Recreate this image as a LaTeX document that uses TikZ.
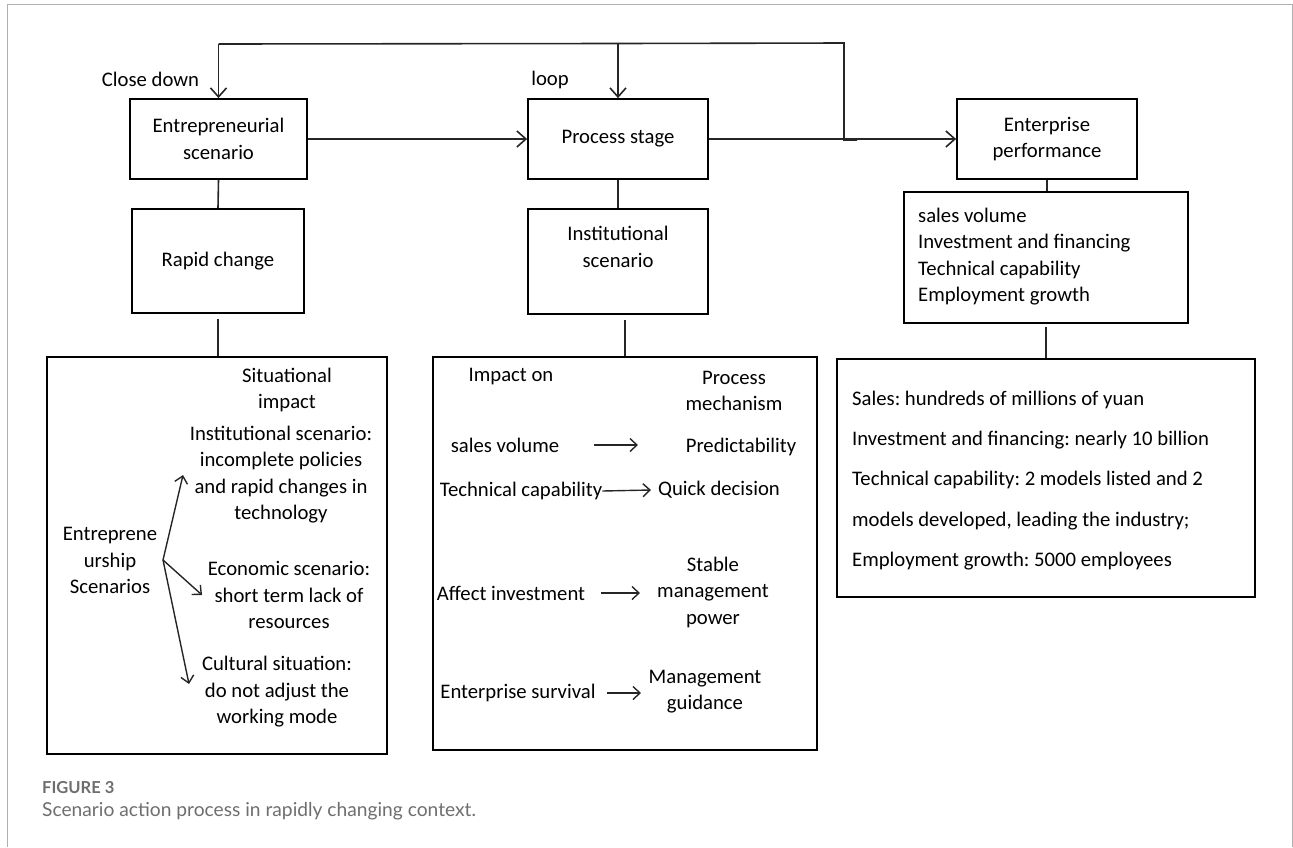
\documentclass[tikz,border=0pt]{standalone}
\usepackage{fontspec}
\setmainfont{Carlito}
\newfontfamily\capfont{Lato}
\usetikzlibrary{arrows.meta}
\definecolor{framegray}{HTML}{B0B0B0}
\definecolor{capgray}{HTML}{6E6E6E}
\frenchspacing
\tikzset{
  box/.style={draw=black, line width=1.8pt, inner sep=0pt, align=center, font=\fontsize{20.7}{26.5}\selectfont},
  txt/.style={inner sep=0pt, align=center, font=\fontsize{20.7}{26.5}\selectfont},
  conn/.style={draw=black!85, line width=1.6pt},
  arr/.style={conn, -{Straight Barb[length=9pt,width=16pt,line width=1.6pt]}},
  sarr/.style={draw=black!85, line width=1.4pt, -{Straight Barb[length=7pt,width=13pt,line width=1.4pt]}},
}
\begin{document}
\begin{tikzpicture}[x=1pt,y=-1pt]
\useasboundingbox (0,0) rectangle (1293,847);
% page frame
\draw[framegray, line width=1pt] (7,847) -- (7,4.5) -- (1292,4.5) -- (1292,847);

% top row
\node[box, minimum width=177pt, minimum height=80pt] (ent) at (218.5,139) {Entrepreneurial\\scenario};
\node[box, minimum width=180pt, minimum height=80pt] (proc) at (618,139) {Process stage};
\node[box, minimum width=180pt, minimum height=80pt] (entp) at (1047,139) {Enterprise\\performance};

% second row
\node[box, minimum width=172pt, minimum height=104pt] (rapid) at (218,261) {Rapid change};
\node[box, minimum width=180pt, minimum height=105pt] (inst) at (618,261.5) {};
\node[txt] (instt) at (618,247) {Institutional\\scenario};
\node[box, minimum width=284pt, minimum height=131pt] (list) at (1046,257.5) {};
\node[txt, anchor=west, align=left] (listt) at (918,256.5) {sales volume\\Investment and financing\\Technical capability\\Employment growth};

% bottom boxes
\node[box, minimum width=340pt, minimum height=397pt] (lbox) at (217,555.5) {};
\node[box, minimum width=384pt, minimum height=393pt] (mbox) at (625,553.5) {};
\node[box, minimum width=418pt, minimum height=238pt] (rbox) at (1046,478) {};

% labels
\node[txt] (cdown) at (150.5,79) {Close down};
\node[txt] (loopl) at (550,80) {loop};

% vertical connectors
\draw[conn] (ent.south) -- (rapid.north);
\draw[conn, shorten <=5pt] (rapid.south) -- (lbox.north -| rapid.south);
\draw[conn] (proc.south) -- (inst.north);
\draw[conn, shorten <=5pt] (mbox.north |- inst.south) -- (mbox.north);
\draw[conn] (entp.south) -- (list.north -| entp.south);
\draw[conn, shorten <=3pt] (list.south -| rbox.north) -- (rbox.north);

% horizontal arrows
\draw[arr] (ent.east) -- (proc.west);
\draw[arr] (proc.east) -- (entp.west);

% feedback loop
\coordinate (jn) at (844,140);
\coordinate (jstub) at (857,140);
\coordinate (tr) at (844,43);
\coordinate (tm) at (618,43.5);
\coordinate (tl) at (218.5,44);
\draw[conn] (jstub) -- (jn) -- (tr) -- (tm);
\draw[arr] (tm) -- (proc.north);
\draw[conn] (tm) -- (tl);
\draw[arr] (tl) -- (ent.north);

% left box content
\node[txt] (sitimp) at (287,390) {Situational\\impact};
\node[txt] (instsc) at (281,474.5) {Institutional scenario:\\incomplete policies\\and rapid changes in\\technology};
\node[txt] (entsc) at (110,560.5) {Entreprene\\urship\\Scenarios};
\node[txt] (econ) at (289,595) {Economic scenario:\\short term lack of\\resources};
\node[txt] (cult) at (277,692) {Cultural situation:\\do not adjust the\\working mode};
\coordinate (fork) at (163,560);
\coordinate (f1) at (183,475);
\coordinate (f2) at (202,595);
\coordinate (f3) at (189,684);
\draw[sarr] (fork) -- (f1);
\draw[sarr] (fork) -- (f2);
\draw[sarr] (fork) -- (f3);

% middle box content
\node[txt] (impon) at (511,377) {Impact on};
\node[txt] (procmech) at (734,391) {Process\\mechanism};
\node[txt] (sv) at (505,445) {sales volume};
\node[txt] (pred) at (741,447) {Predictability};
\node[txt] (tc) at (521,491) {Technical capability};
\node[txt] (qd) at (719,490) {Quick decision};
\node[txt] (ai) at (511,593) {Affect investment};
\node[txt] (smp) at (713,592) {Stable\\management\\power};
\node[txt] (es) at (518,693) {Enterprise survival};
\node[txt] (mg) at (705,691.5) {Management\\guidance};
\draw[sarr] (594,445) -- (638,445);
\draw[sarr] (tc.east) -- (651,490);
\draw[sarr] (601,593) -- (640,593);
\draw[sarr] (607,693) -- (641,693);

% right box content
\node[txt, anchor=west, align=left, font=\fontsize{20.7}{40.3}\selectfont] (rtxt) at (852,480.5) {Sales: hundreds of millions of yuan\\Investment and financing: nearly 10 billion\\Technical capability: 2 models listed and 2\\models developed, leading the industry;\\Employment growth: 5000 employees};

% caption
\node[anchor=west, inner sep=0pt, text=capgray, font=\capfont\bfseries\fontsize{16.5}{18}\selectfont] (fig) at (42,788) {FIGURE 3};
\node[anchor=west, inner sep=0pt, text=capgray, font=\capfont\fontsize{19.2}{22}\selectfont] (cap) at (42,811) {Scenario action process in rapidly changing context.};
\end{tikzpicture}
\end{document}
